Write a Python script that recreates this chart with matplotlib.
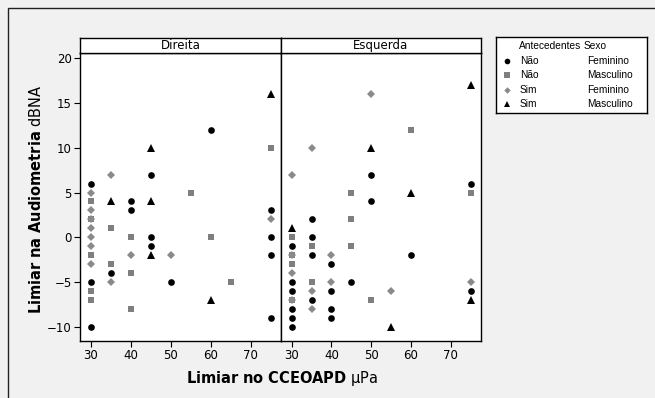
"""Limiar no CCEOAPD vs limiar na audiometria, faceted by ear."""
import matplotlib
matplotlib.use("Agg")
import matplotlib.pyplot as plt
from matplotlib.lines import Line2D
from matplotlib.patches import Rectangle

# Data: (x = CCEOAPD threshold uPa, y = audiometry threshold dBNA)
# Direita
dir_nao_fem = [(60, 12), (45, 7), (30, 6), (40, 4), (40, 3), (75, 3), (45, 0), (75, 0),
               (45, -1), (75, -2), (35, -4), (30, -5), (50, -5), (75, -9), (30, -10)]
dir_nao_masc = [(75, 10), (55, 5), (30, 4), (30, 2), (35, 1), (40, 0), (60, 0), (30, -2),
                (35, -3), (40, -4), (65, -5), (30, -6), (30, -7), (40, -8)]
dir_sim_fem = [(35, 7), (30, 5), (30, 3), (30, 2), (75, 2), (30, 1), (30, 0), (30, -1),
               (40, -2), (50, -2), (30, -3), (35, -5)]
dir_sim_masc = [(75, 16), (45, 10), (35, 4), (45, 4), (45, -2), (60, -7)]

# Esquerda
esq_nao_fem = [(50, 7), (75, 6), (50, 4), (35, 2), (35, 0), (30, -1), (35, -2), (60, -2),
               (40, -3), (30, -5), (45, -5), (30, -6), (40, -6), (75, -6), (35, -7),
               (30, -8), (40, -8), (30, -9), (40, -9), (30, -10)]
esq_nao_masc = [(60, 12), (45, 5), (75, 5), (45, 2), (30, 0), (35, -1), (45, -1), (30, -2),
                (30, -3), (35, -5), (30, -7), (50, -7)]
esq_sim_fem = [(50, 16), (35, 10), (30, 7), (30, -2), (40, -2), (30, -4), (40, -5),
               (75, -5), (35, -6), (55, -6), (30, -7), (35, -8)]
esq_sim_masc = [(75, 17), (50, 10), (60, 5), (30, 1), (75, -7), (55, -10)]

panels = ["Direita", "Esquerda"]
groups = [("Não", "Feminino"), ("Não", "Masculino"), ("Sim", "Feminino"), ("Sim", "Masculino")]
panel_data = {
    "Direita": [dir_nao_fem, dir_nao_masc, dir_sim_fem, dir_sim_masc],
    "Esquerda": [esq_nao_fem, esq_nao_masc, esq_sim_fem, esq_sim_masc],
}
x_ticks = [30, 40, 50, 60, 70]
y_ticks = [-10, -5, 0, 5, 10, 15, 20]

# Styles
BG = "#f1f1f1"
styles = [
    {"marker": "o", "color": "black", "ms": 4.8},
    {"marker": "s", "color": "#7f7f7f", "ms": 5.0},
    {"marker": "D", "color": "#8a8a8a", "ms": 3.9},
    {"marker": "^", "color": "black", "ms": 5.8},
]
TICK_FS = 8.5
LEG_FONT = "Liberation Sans"

W, H = 655, 398
fig = plt.figure(figsize=(W / 100, H / 100), dpi=100, facecolor=BG)

# outer frame
fig.patches.append(Rectangle((8 / W, -0.1), 1.2, 1 - 8 / H + 0.1, transform=fig.transFigure,
                             fill=False, edgecolor="#222222", linewidth=1.0))

left, mid, right = 80 / W, 281 / W, 481 / W
bottom, top, strip_top = 1 - 341 / H, 1 - 53 / H, 1 - 38 / H

axes = []
for i, name in enumerate(panels):
    x0 = left if i == 0 else mid
    x1 = mid if i == 0 else right
    ax = fig.add_axes([x0, bottom, x1 - x0, top - bottom])
    ax.set_facecolor("white")
    for pts, st in zip(panel_data[name], styles):
        xs = [p[0] for p in pts]
        ys = [p[1] for p in pts]
        ax.plot(xs, ys, linestyle="none", marker=st["marker"], color=st["color"],
                markersize=st["ms"], markeredgewidth=0)
    ax.set_xlim(27.3, 77.6)
    ax.set_ylim(-11.6, 20.6)
    ax.set_xticks(x_ticks)
    ax.set_yticks(y_ticks)
    ax.tick_params(direction="out", length=4, width=0.8, labelsize=TICK_FS, pad=2)
    if i == 1:
        ax.tick_params(axis="y", left=False, labelleft=False)
    for sp in ax.spines.values():
        sp.set_linewidth(1.0)
    # strip
    sax = fig.add_axes([x0, top, x1 - x0, strip_top - top])
    sax.set_facecolor("white")
    sax.set_xticks([])
    sax.set_yticks([])
    for sp in sax.spines.values():
        sp.set_linewidth(1.0)
    sax.text(0.5, 0.5, name, ha="center", va="center", fontsize=8.5, transform=sax.transAxes)
    axes.append(ax)

fig.text(282 / W, 1 - 379 / H, r"$\mathbf{Limiar\ no\ CCEOAPD}$ μPa", ha="center", va="center",
         fontsize=10.5)
fig.text(36 / W, 1 - 199 / H, r"$\mathbf{Limiar\ na\ Audiometria}$ dBNA", ha="center",
         va="center", rotation=90, fontsize=10.5)

# legend box
lx0, ly0, lx1, ly1 = 496, 37, 647, 113
lax = fig.add_axes([lx0 / W, 1 - ly1 / H, (lx1 - lx0) / W, (ly1 - ly0) / H])
lax.set_facecolor("white")
lax.set_xlim(lx0, lx1)
lax.set_ylim(ly1, ly0)
lax.set_xticks([])
lax.set_yticks([])
for sp in lax.spines.values():
    sp.set_linewidth(1.0)
lax.text(519, 46, "Antecedentes", fontsize=7.3, va="center", family=LEG_FONT)
lax.text(584, 46, "Sexo", fontsize=7.3, va="center", family=LEG_FONT)
row_y = [61, 75, 90, 104]
for (ant, sexo), st, yy in zip(groups, styles, row_y):
    lax.add_line(Line2D([507], [yy], marker=st["marker"], color=st["color"],
                        markersize=st["ms"] * 0.85, markeredgewidth=0, linestyle="none"))
    lax.text(520, yy, ant, fontsize=7.3, va="center", family=LEG_FONT)
    lax.text(587, yy, sexo, fontsize=7.3, va="center", family=LEG_FONT)

fig.savefig("out.png", dpi=100, facecolor=BG)
